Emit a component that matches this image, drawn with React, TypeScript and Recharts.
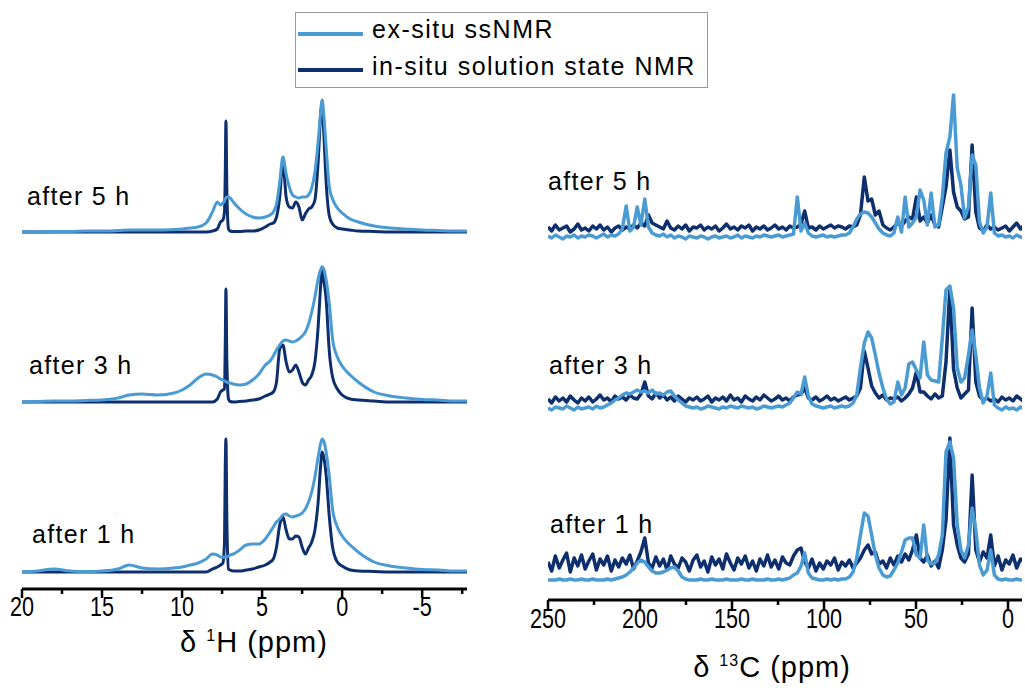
import React from "react";
import { LineChart, Line, XAxis, YAxis } from "recharts";

const LIGHT = "#4a9bd4";
const DARK = "#0e2f6e";

// 1H spectra (ppm grid + intensities above each baseline)
const hPpm = [
  20, 19, 18, 17, 16, 15, 14, 13.3, 12.5, 11.5,
  10.5, 10, 9.5, 9, 8.5, 8.1, 7.8, 7.6, 7.45, 7.35,
  7.3, 7.26, 7.2, 7.1, 7.0, 6.8, 6.4, 6, 5.6, 5.2,
  4.8, 4.5, 4.3, 4.1, 3.9, 3.7, 3.5, 3.3, 3.1, 2.9,
  2.7, 2.5, 2.3, 2.1, 1.9, 1.7, 1.5, 1.35, 1.25, 1.15,
  1.0, 0.8, 0.6, 0.3, 0, -0.5, -1, -2, -3, -4,
  -5, -6, -7, -8,
];
const h5Ex = [
  0, 0, 0.5, 0.5, 1, 1, 1.5, 2, 2, 2,
  2.5, 3, 4, 5, 9, 20, 30, 27, 29, 31,
  33, 34, 35, 35, 34, 30, 23, 18, 15, 14,
  15, 17, 20, 28, 50, 75, 58, 45, 37, 35,
  34, 35, 35, 37, 44, 60, 90, 118, 132, 118,
  85, 45, 33, 24, 19, 13, 10, 6, 4, 3,
  2, 1.5, 1, 1,
];
const h5In = [
  0, 0, 0, 0, 0, 0, 0, 0, 0, 0,
  0, 0, 0, 0, 0, 1, 3, 10, 12, 20,
  60, 111, 40, 3, 1, 0.5, 0.5, 1, 1, 2,
  5, 8, 9, 15, 35, 70, 35, 25, 24, 30,
  25, 12, 18, 23, 25, 32, 70, 115, 130, 100,
  50, 16, 8, 4, 3, 2, 1, 0.5, 0, 0,
  0, 0, 0, 0,
];
const h3Ex = [
  0, 0.5, 1, 1, 1.5, 2, 4, 7, 8, 7,
  9, 12, 17, 24, 28, 27, 25, 23, 22, 21,
  21, 20, 20, 19, 19, 18, 17, 18, 22, 28,
  37, 41, 46, 52, 57, 61, 62, 61, 60, 61,
  63, 66, 70, 78, 90, 105, 123, 132, 135, 133,
  122, 98, 63, 45, 36, 27, 20, 10, 6, 4,
  2.5, 2, 1, 1,
];
const h3In = [
  0, 0, 0, 0, 0, 0, 0, 0, 0, 0,
  0, 0, 0, 0, 0, 0, 3, 10, 12, 13,
  60, 113, 40, 3, 0.5, 0, 0.5, 1, 2, 3,
  6, 8, 10, 20, 53, 57, 40, 30, 32, 37,
  30, 20, 17, 22, 27, 40, 75, 115, 135, 122,
  103, 50, 25, 13, 7, 3, 2, 1, 0, 0,
  0, 0, 0, 0,
];
const h1Ex = [
  0, 1, 3, 1, 0.5, 1, 3, 7, 4, 3,
  4, 5, 7, 9, 13, 18, 17, 15, 15, 15,
  15, 15, 15, 16, 17, 18, 22, 27, 28, 28,
  33, 40, 45, 50, 53, 57, 58, 56, 55, 56,
  57, 59, 63, 70, 80, 95, 115, 128, 133, 131,
  120, 95, 63, 45, 36, 27, 20, 10, 6, 4,
  2.5, 2, 1, 1,
];
const h1In = [
  0, 0, 0, 0, 0, 0, 0, 0, 0, 0,
  0, 0, 0, 0, 0, 3, 5, 7, 9, 30,
  107, 133, 50, 3, 2, 1, 1, 2, 3, 5,
  7, 10, 13, 25, 47, 55, 42, 33, 33, 36,
  35, 25, 18, 24, 30, 42, 70, 105, 120, 115,
  97, 55, 25, 10, 6, 2, 1, 0.5, 0, 0,
  0, 0, 0, 0,
];

// 13C spectra
const cPpm = [
  250, 248.0, 246.0, 243.9, 241.9, 239.9, 237.9, 235.8, 233.8, 231.8,
  229.8, 227.8, 225.7, 223.7, 221.7, 219.7, 217.7, 215.6, 213.6, 211.6,
  209.6, 207.5, 205.5, 203.5, 201.5, 199.5, 197.4, 195.4, 193.4, 191.4,
  189.3, 187.3, 185.3, 183.3, 181.3, 179.2, 177.2, 175.2, 173.2, 171.1,
  169.1, 167.1, 165.1, 163.1, 161.0, 159.0, 157.0, 155.0, 153.0, 150.9,
  148.9, 146.9, 144.9, 142.8, 140.8, 138.8, 136.8, 134.8, 132.7, 130.7,
  128.7, 126.7, 124.6, 122.6, 120.6, 118.6, 116.6, 114.5, 112.5, 110.5,
  108.5, 106.5, 104.4, 102.4, 100.4, 98.4, 96.3, 94.3, 92.3, 90.3,
  88.3, 86.2, 84.2, 82.2, 80.2, 78.1, 76.1, 74.1, 72.1, 70.1,
  68.0, 66.0, 64.0, 62.0, 59.9, 57.9, 55.9, 53.9, 51.9, 49.8,
  47.8, 45.8, 43.8, 41.8, 39.7, 37.7, 35.7, 33.7, 31.6, 29.6,
  27.6, 25.6, 23.6, 21.5, 19.5, 17.5, 15.5, 13.5, 11.4, 9.4,
  7.4, 5.4, 3.3, 1.3, -0.7, -2.7, -4.7, -6.8, -8.8,
];
const c5Ex = [
  1, -1, 2, 0, -2, 1, 0, 2, -1, 1,
  0, 2, 1, -1, 1, 3, 0, 2, 1, 3,
  8, 31, 6, 10, 30, 12, 38, 10, 4, 2,
  1, 3, 0, 2, -1, 1, 0, -2, 1, 0,
  -1, 1, 0, -2, 0, 1, -1, 0, 1, -1,
  0, 2, -1, 1, 0, -1, 1, 0, 2, 1,
  0, 1, 2, 0, 1, 2, 3, 40, 6, 14,
  4, 1, 0, 1, 2, 0, 1, 0, 1, 2,
  2, 4, 10, 18, 23, 25, 24, 20, 14, 8,
  4, 2, 1, 4, 20, 5, 40, 10, 14, 20,
  47, 37, 12, 44, 10, 12, 40, 84, 100, 142,
  69, 52, 19, 30, 82, 72, 15, 4, 10, 44,
  4, 1, 2, 0, 1, -1, 2, 0, -1,
];
const c5In = [
  10, 6, 12, 7, 9, 11, 5, 8, 13, 7,
  9, 6, 11, 8, 12, 7, 10, 5, 9, 11,
  7, 10, 8, 12, 9, 14, 11, 22, 14, 12,
  10, 8, 16, 9, 7, 11, 8, 12, 6, 10,
  9, 12, 7, 10, 8, 11, 6, 9, 13, 8,
  10, 7, 11, 9, 12, 6, 10, 8, 11, 7,
  9, 12, 8, 10, 7, 11, 9, 10, 13, 26,
  9, 10, 7, 11, 8, 10, 12, 9, 11, 10,
  8, 11, 10, 12, 22, 60, 36, 38, 22, 26,
  12, 9, 7, 10, 14, 11, 16, 20, 18, 40,
  16, 20, 14, 22, 12, 10, 30, 50, 87, 45,
  30, 26, 18, 20, 92, 25, 9, 6, 12, 8,
  10, 7, 9, 11, 6, 10, 14, 8, 12,
];
const c3Ex = [
  0, -2, 1, 0, -1, 2, 0, -2, 1, -1,
  0, 1, -1, 2, 0, 1, 3, 5, 8, 10,
  13, 15, 14, 16, 18, 16, 17, 15, 18, 14,
  15, 13, 16, 17, 12, 8, 5, 2, 1, 0,
  1, -1, 0, 2, 1, 0, -1, 1, 0, 2,
  1, 0, 2, 1, 0, 1, -1, 0, 2, 1,
  0, 1, 2, 1, 3, 5, 10, 16, 14, 31,
  12, 4, 2, 1, 0, 1, 2, 0, 1, 2,
  1, 2, 5, 13, 40, 65, 76, 70, 53, 35,
  20, 9, 4, 6, 26, 13, 20, 44, 46, 38,
  30, 66, 33, 28, 27, 26, 70, 118, 122, 100,
  40, 26, 30, 53, 78, 53, 20, 5, 12, 35,
  3, 0, -2, 1, -1, 0, -2, 1, -1,
];
const c3In = [
  9, 5, 11, 7, 10, 6, 12, 8, 5, 10,
  7, 11, 6, 9, 13, 8, 10, 6, 12, 9,
  11, 8, 13, 10, 9, 14, 26, 12, 9, 15,
  10, 13, 8, 11, 7, 12, 9, 6, 10, 8,
  11, 7, 9, 12, 6, 10, 8, 11, 7, 13,
  8, 10, 6, 12, 9, 7, 11, 8, 13, 10,
  7, 9, 12, 8, 10, 7, 11, 13, 14, 20,
  10, 8, 11, 7, 9, 12, 8, 10, 7, 9,
  11, 8, 10, 12, 20, 57, 40, 22, 15, 10,
  13, 8, 10, 9, 11, 7, 10, 14, 20, 36,
  16, 16, 12, 9, 14, 10, 12, 46, 120, 39,
  20, 10, 14, 18, 100, 26, 12, 8, 10, 7,
  9, 6, 11, 8, 10, 7, 12, 9, 6,
];
const c1Ex = [
  0, 0, 0, 1, 0, 0, 1, 0, 0, 1,
  0, 0, 1, 0, 0, 0, 1, 0, 1, 2,
  3, 5, 8, 12, 17, 20, 18, 13, 9, 7,
  7, 8, 10, 12, 13, 9, 3, 1, 0, 0,
  0, 1, 0, 0, 1, 0, 0, 0, 1, 0,
  0, 0, 1, 0, 0, 1, 0, 0, 0, 1,
  0, 0, 1, 0, 1, 2, 5, 7, 14, 27,
  7, 2, 1, 0, 0, 1, 0, 1, 0, 1,
  1, 3, 8, 22, 45, 67, 64, 45, 25, 12,
  5, 3, 4, 10, 17, 28, 40, 42, 42, 25,
  22, 55, 20, 16, 17, 25, 45, 128, 138, 122,
  55, 30, 22, 35, 72, 50, 15, 5, 10, 30,
  5, 1, 0, 1, 0, 0, 1, 0, 0,
];
const c1In = [
  18, 9, 24, 12, 20, 27, 8, 22, 14, 25,
  11, 19, 26, 10, 21, 15, 24, 9, 20, 13,
  22, 16, 25, 11, 19, 28, 42, 17, 12, 23,
  14, 21, 10, 24, 16, 12, 22, 18, 9, 20,
  25, 13, 19, 8, 23, 15, 21, 11, 26, 17,
  10, 22, 16, 24, 12, 19, 9, 21, 14, 25,
  13, 20, 11, 23, 17, 15, 24, 30, 32, 18,
  12, 21, 9, 17, 11, 19, 15, 22, 10, 18,
  14, 20, 12, 17, 22, 30, 35, 26, 28, 16,
  19, 12, 22, 15, 24, 18, 26, 20, 30, 45,
  22, 18, 25, 14, 19, 12, 30, 60, 142, 55,
  35, 22, 18, 26, 105, 30, 18, 28, 22, 45,
  14, 24, 10, 20, 16, 25, 12, 21, 18,
];

const hTicks = [20, 17.5, 15, 12.5, 10, 7.5, 5, 2.5, 0, -2.5, -5, -7.5];
const hMajor = [20, 15, 10, 5, 0, -5];
const cTicks = [250, 225, 200, 175, 150, 125, 100, 75, 50, 25, 0];
const cMajor = [250, 200, 150, 100, 50, 0];

// vertical stacking of the traces (chart units)
const hStack = [357, 187, 17];
const cStack = [363, 192, 20];

const hData = hPpm.map((ppm, i) => ({
  ppm,
  ex5: h5Ex[i] + hStack[0],
  in5: h5In[i] + hStack[0],
  ex3: h3Ex[i] + hStack[1],
  in3: h3In[i] + hStack[1],
  ex1: h1Ex[i] + hStack[2],
  in1: h1In[i] + hStack[2],
}));

const cData = cPpm.map((ppm, i) => ({
  ppm,
  ex5: c5Ex[i] + cStack[0],
  in5: c5In[i] + cStack[0],
  ex3: c3Ex[i] + cStack[1],
  in3: c3In[i] + cStack[1],
  ex1: c1Ex[i] + cStack[2],
  in1: c1In[i] + cStack[2],
}));

const textFont = "'Liberation Sans', Arial, sans-serif";

const AxisTick = (props: any) => {
  const { x, y, payload, major, labelDy } = props;
  const isMajor = major.includes(payload.value);
  return (
    <g>
      <line x1={x} x2={x} y1={y} y2={y + (isMajor ? 9 : 5)} stroke="#000" strokeWidth={2.5} />
      {isMajor && (
        <text
          transform={`translate(${x},${y + labelDy}) scale(0.8,1)`}
          textAnchor="middle"
          fontSize={27}
          fontFamily={textFont}
          fill="#000"
        >
          {payload.value}
        </text>
      )}
    </g>
  );
};

const seriesKeys = ["5", "3", "1"];

const Spectra = ({ data, curve, width }: { data: any[]; curve: "monotone" | "linear"; width: number }) => (
  <>
    {seriesKeys.map((k) => (
      <Line
        key={"in" + k}
        data={data}
        dataKey={"in" + k}
        type={curve}
        stroke={DARK}
        strokeWidth={width}
        strokeLinejoin="round"
        dot={false}
        isAnimationActive={false}
      />
    ))}
    {seriesKeys.map((k) => (
      <Line
        key={"ex" + k}
        data={data}
        dataKey={"ex" + k}
        type={curve}
        stroke={LIGHT}
        strokeWidth={width}
        strokeLinejoin="round"
        dot={false}
        isAnimationActive={false}
      />
    ))}
  </>
);

const labelStyle: React.CSSProperties = {
  position: "absolute",
  fontFamily: textFont,
  fontSize: 25,
  letterSpacing: 1.3,
  lineHeight: "25px",
  whiteSpace: "nowrap",
  color: "#000",
};

const titleStyle: React.CSSProperties = {
  position: "absolute",
  width: 240,
  textAlign: "center",
  fontFamily: textFont,
  fontSize: 29,
  letterSpacing: 1,
  lineHeight: "29px",
  whiteSpace: "nowrap",
  color: "#000",
};

const App = () => {
  return (
    <div style={{ position: "absolute", left: 0, top: 0, width: 1025, height: 690, background: "#fff", overflow: "hidden" }}>
      <div style={{ position: "absolute", left: 0, top: 0 }}>
        <LineChart width={490} height={690} data={hData} margin={{ top: 89, right: 23, left: 22, bottom: 61 }}>
          <XAxis
            dataKey="ppm"
            type="number"
            domain={[-7.8, 20]}
            reversed
            allowDataOverflow
            ticks={hTicks}
            interval={0}
            tickSize={0}
            tickMargin={0}
            tickLine={false}
            axisLine={{ stroke: "#000", strokeWidth: 3 }}
            height={40}
            tick={(p: any) => <AxisTick {...p} major={hMajor} labelDy={27} />}
          />
          <YAxis hide domain={[0, 500]} allowDataOverflow />
          {Spectra({ data: hData, curve: "monotone", width: 3 })}
        </LineChart>
      </div>
      <div style={{ position: "absolute", left: 500, top: 0 }}>
        <LineChart width={525} height={690} data={cData} margin={{ top: 80, right: 3, left: 48, bottom: 50 }}>
          <XAxis
            dataKey="ppm"
            type="number"
            domain={[-7.6, 250]}
            reversed
            allowDataOverflow
            ticks={cTicks}
            interval={0}
            tickSize={0}
            tickMargin={0}
            tickLine={false}
            axisLine={{ stroke: "#000", strokeWidth: 3 }}
            height={40}
            tick={(p: any) => <AxisTick {...p} major={cMajor} labelDy={28} />}
          />
          <YAxis hide domain={[0, 520]} allowDataOverflow />
          {Spectra({ data: cData, curve: "linear", width: 3.5 })}
        </LineChart>
      </div>

      <div style={{ ...labelStyle, left: 27, top: 184 }}>after 5 h</div>
      <div style={{ ...labelStyle, left: 29, top: 353 }}>after 3 h</div>
      <div style={{ ...labelStyle, left: 32, top: 522 }}>after 1 h</div>
      <div style={{ ...labelStyle, left: 548, top: 169 }}>after 5 h</div>
      <div style={{ ...labelStyle, left: 549, top: 353 }}>after 3 h</div>
      <div style={{ ...labelStyle, left: 550, top: 512 }}>after 1 h</div>

      <div style={{ ...titleStyle, left: 134, top: 621 }}>
        δ <sup style={{ fontSize: 16 }}>1</sup>H (ppm)
      </div>
      <div style={{ ...titleStyle, left: 652, top: 646 }}>
        δ <sup style={{ fontSize: 16 }}>13</sup>C (ppm)
      </div>

      <div style={{ position: "absolute", left: 295, top: 12, width: 413, height: 76, border: "1px solid #9a9a9a", boxSizing: "border-box", background: "#fff" }}>
        <div style={{ position: "absolute", left: 2, top: 19, width: 65, height: 4, background: LIGHT }} />
        <div style={{ position: "absolute", left: 2, top: 55, width: 65, height: 4, background: DARK }} />
        <div style={{ ...labelStyle, left: 76, top: 4, letterSpacing: 1.5 }}>ex-situ ssNMR</div>
        <div style={{ ...labelStyle, left: 76, top: 41, letterSpacing: 1.5 }}>in-situ solution state NMR</div>
      </div>
    </div>
  );
};

export default App;
